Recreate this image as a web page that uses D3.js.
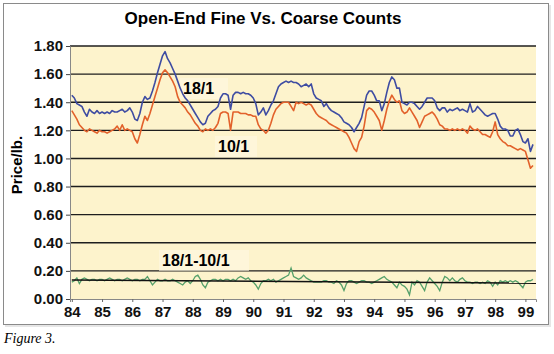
<!DOCTYPE html>
<html>
<head>
<meta charset="utf-8">
<script src="https://cdn.jsdelivr.net/npm/d3@7"></script>
<style>
  body { margin: 0; background: #fff; }
  svg { display: block; }
  .tick text { font-family: "Liberation Sans", Arial, sans-serif; font-weight: bold; font-size: 15px; fill: #111; }
</style>
</head>
<body>
<svg width="554" height="354"></svg>
<script>
// monthly prices, Jan 1984 .. Apr 1999 ($/lb)
var startYear = 84;
var fine18 = [
  1.45,1.43,1.39,1.38,1.37,1.33,1.30,1.35,1.33,1.32,
  1.34,1.32,1.33,1.32,1.33,1.32,1.34,1.33,1.33,1.34,
  1.35,1.33,1.34,1.36,1.33,1.28,1.27,1.32,1.40,1.44,
  1.42,1.43,1.48,1.54,1.61,1.67,1.73,1.76,1.71,1.68,
  1.64,1.60,1.55,1.50,1.46,1.43,1.41,1.38,1.35,1.32,
  1.29,1.26,1.24,1.25,1.30,1.32,1.34,1.35,1.37,1.43,
  1.46,1.46,1.45,1.35,1.45,1.47,1.47,1.46,1.47,1.46,
  1.46,1.45,1.43,1.39,1.31,1.33,1.36,1.31,1.34,1.38,
  1.41,1.46,1.51,1.53,1.54,1.55,1.54,1.55,1.54,1.54,
  1.53,1.51,1.52,1.53,1.51,1.53,1.46,1.43,1.42,1.41,
  1.37,1.39,1.36,1.34,1.33,1.32,1.31,1.29,1.26,1.25,
  1.24,1.22,1.19,1.22,1.25,1.29,1.37,1.45,1.48,1.48,
  1.45,1.41,1.41,1.34,1.39,1.47,1.54,1.58,1.56,1.50,
  1.50,1.40,1.39,1.38,1.40,1.40,1.39,1.37,1.35,1.37,
  1.40,1.43,1.43,1.43,1.41,1.36,1.34,1.36,1.36,1.33,
  1.35,1.34,1.35,1.36,1.34,1.35,1.34,1.33,1.39,1.33,
  1.34,1.37,1.35,1.33,1.31,1.30,1.31,1.32,1.32,1.28,
  1.23,1.21,1.21,1.20,1.16,1.16,1.20,1.21,1.17,1.12,
  1.11,1.14,1.05,1.10
];
var coarse10 = [
  1.34,1.31,1.28,1.24,1.22,1.20,1.19,1.21,1.20,1.19,
  1.18,1.20,1.19,1.19,1.18,1.19,1.20,1.21,1.23,1.20,
  1.24,1.20,1.21,1.20,1.19,1.14,1.11,1.17,1.24,1.30,
  1.27,1.32,1.38,1.44,1.50,1.56,1.61,1.63,1.61,1.58,
  1.55,1.51,1.44,1.40,1.38,1.36,1.33,1.31,1.28,1.25,
  1.23,1.20,1.19,1.21,1.20,1.21,1.20,1.22,1.25,1.32,
  1.33,1.33,1.32,1.20,1.33,1.33,1.33,1.32,1.32,1.32,
  1.31,1.31,1.30,1.30,1.24,1.21,1.20,1.18,1.20,1.25,
  1.31,1.35,1.37,1.39,1.40,1.40,1.40,1.37,1.34,1.40,
  1.39,1.40,1.39,1.38,1.39,1.38,1.35,1.32,1.30,1.29,
  1.28,1.27,1.25,1.24,1.23,1.22,1.21,1.20,1.19,1.18,
  1.15,1.11,1.07,1.05,1.12,1.15,1.23,1.34,1.36,1.35,
  1.33,1.30,1.27,1.20,1.27,1.35,1.41,1.45,1.42,1.40,
  1.41,1.34,1.32,1.33,1.36,1.33,1.30,1.27,1.22,1.26,
  1.30,1.31,1.32,1.33,1.31,1.28,1.24,1.23,1.21,1.21,
  1.20,1.21,1.20,1.21,1.20,1.21,1.20,1.18,1.23,1.21,
  1.20,1.21,1.19,1.17,1.17,1.16,1.15,1.19,1.26,1.17,
  1.14,1.12,1.11,1.09,1.09,1.08,1.07,1.06,1.07,1.06,
  1.05,0.99,0.93,0.95
];
var spread = [
  .12,.13,.15,.11,.14,.15,.14,.13,.14,.14,
  .13,.14,.14,.13,.14,.15,.14,.13,.14,.14,
  .13,.14,.15,.14,.13,.14,.14,.13,.14,.14,
  .16,.13,.10,.12,.14,.13,.13,.14,.13,.13,
  .14,.13,.12,.11,.10,.12,.13,.11,.13,.16,
  .17,.14,.10,.08,.12,.13,.14,.14,.13,.14,
  .13,.14,.14,.13,.14,.13,.15,.16,.15,.14,
  .15,.13,.12,.10,.07,.11,.13,.13,.14,.13,
  .14,.12,.13,.14,.15,.16,.17,.22,.16,.15,
  .14,.15,.17,.15,.14,.13,.12,.12,.12,.12,
  .13,.13,.12,.12,.11,.13,.12,.10,.06,.11,
  .13,.13,.12,.11,.12,.13,.13,.12,.12,.11,
  .12,.13,.14,.15,.16,.14,.13,.12,.10,.08,
  .12,.10,.09,.07,.03,.12,.10,.13,.12,.09,
  .06,.12,.15,.13,.11,.09,.06,.12,.16,.15,
  .13,.15,.13,.12,.14,.15,.13,.12,.12,.11,
  .12,.12,.11,.12,.11,.13,.12,.09,.12,.10,
  .13,.12,.13,.12,.13,.12,.13,.12,.10,.08,
  .12,.13,.13,.14
];
// trend of the spread, [year, value]
var spreadTrend = [[84, 0.135], [99.35, 0.113]];
var yearTicks = d3.range(84, 100);
var priceTicks = [0, 0.2, 0.4, 0.6, 0.8, 1.0, 1.2, 1.4, 1.6, 1.8];

var svg = d3.select("svg");
var plotL = 70, plotR = 536, plotT = 46, plotB = 299;

var x = d3.scaleLinear().domain([83.94, 99.35]).range([plotL, plotR]);
var y = d3.scaleLinear().domain([0, 1.8]).range([plotB, plotT]);

// frame + shadow
svg.append("rect").attr("x", 5).attr("y", 5).attr("width", 546).attr("height", 322).attr("fill", "#e6e6e6");
svg.append("rect").attr("x", 3.5).attr("y", 3.5).attr("width", 545).attr("height", 321)
  .attr("fill", "#fff").attr("stroke", "#8a8a8a").attr("stroke-width", 1);

svg.append("text").attr("x", 263).attr("y", 24).attr("text-anchor", "middle")
  .style("font-family", "Liberation Sans, Arial, sans-serif").style("font-weight", "bold").style("font-size", "17px")
  .text("Open-End Fine Vs. Coarse Counts");

// plot background
svg.append("rect").attr("x", plotL).attr("y", plotT).attr("width", plotR - plotL).attr("height", plotB - plotT)
  .attr("fill", "#fdf3cc");

// gridlines
svg.append("g").selectAll("line").data(priceTicks.filter(d => d > 0)).join("line")
  .attr("x1", plotL).attr("x2", plotR)
  .attr("y1", d => y(d)).attr("y2", d => y(d))
  .attr("stroke", "#1e1e1e").attr("stroke-width", 1.4);

// axes
var yAxis = svg.append("g").attr("transform", "translate(" + plotL + ",0)")
  .call(d3.axisLeft(y).tickValues(priceTicks).tickFormat(d3.format(".2f")).tickSize(4).tickPadding(3));
yAxis.select(".domain").attr("stroke", "#888");
yAxis.selectAll(".tick line").attr("stroke", "#444");

var xAxis = svg.append("g").attr("transform", "translate(0," + plotB + ")")
  .call(d3.axisBottom(x).tickValues(yearTicks).tickFormat(d => d).tickSize(3).tickPadding(2));
xAxis.select(".domain").attr("stroke", "#888");
xAxis.selectAll(".tick line").attr("stroke", "#666");
xAxis.selectAll(".tick text").attr("dy", "0.85em");

svg.append("text").attr("transform", "translate(22,165) rotate(-90)").attr("text-anchor", "middle")
  .style("font-family", "Liberation Sans, Arial, sans-serif").style("font-weight", "bold").style("font-size", "15px")
  .text("Price/lb.");

// label boxes
function labelBox(tx, ty, w, txt) {
  svg.append("rect").attr("x", tx - 3).attr("y", ty - 16).attr("width", w).attr("height", 21)
    .attr("fill", "#fff9e2").attr("opacity", 0.6);
  svg.append("text").attr("x", tx).attr("y", ty)
    .style("font-family", "Liberation Sans, Arial, sans-serif").style("font-weight", "bold").style("font-size", "16px")
    .text(txt);
}

var line = d3.line().x((d, i) => x(startYear + i / 12)).y(d => y(d));

labelBox(183, 94, 48, "18/1");
labelBox(218, 152, 42, "10/1");
labelBox(162, 266, 90, "18/1-10/1");

svg.append("path").datum(spread).attr("d", line).attr("fill", "none")
  .attr("stroke", "#55a06a").attr("stroke-width", 1.3);
svg.append("path").datum(spreadTrend)
  .attr("d", d3.line().x(d => x(d[0])).y(d => y(d[1])))
  .attr("stroke", "#111").attr("stroke-width", 1.6).attr("fill", "none");

svg.append("path").datum(coarse10).attr("d", line).attr("fill", "none")
  .attr("stroke", "#e2612b").attr("stroke-width", 1.6).attr("stroke-linejoin", "round");
svg.append("path").datum(fine18).attr("d", line).attr("fill", "none")
  .attr("stroke", "#3e4ca2").attr("stroke-width", 1.6).attr("stroke-linejoin", "round");

svg.append("text").attr("x", 4).attr("y", 343)
  .style("font-family", "Liberation Serif, Times New Roman, serif").style("font-style", "italic").style("font-size", "14px")
  .text("Figure 3.");
</script>
</body>
</html>
